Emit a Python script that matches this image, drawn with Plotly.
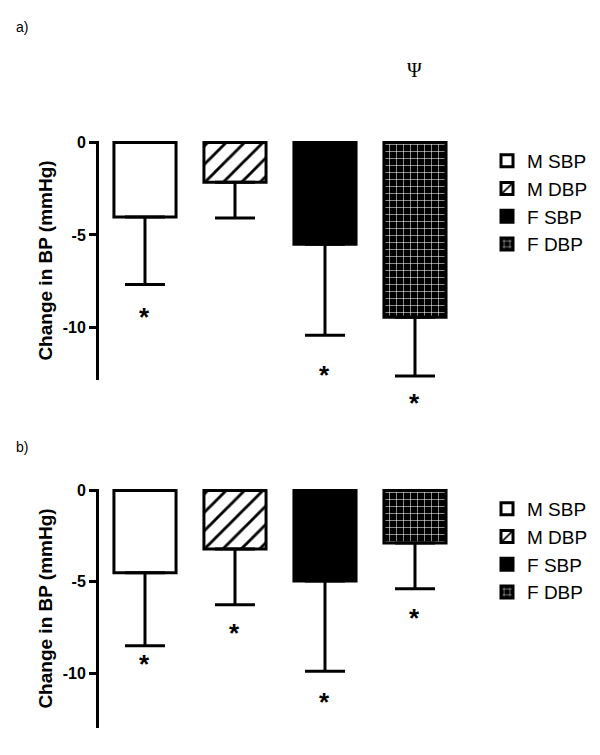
import plotly.graph_objects as go

categories = ["M SBP", "M DBP", "F SBP", "F DBP"]
a_means = [-4.03, -2.15, -5.5, -9.46]
a_err = [3.66, 1.94, 4.93, 3.17]
a_star = [-9.46, None, -12.6, -14.1]

b_means = [-4.5, -3.2, -4.95, -2.88]
b_err = [4.0, 3.05, 4.95, 2.5]
b_star = [-9.5, -7.8, -11.6, -6.96]

a_range = [-12.85, 0.08]
b_range = [-13.0, 0.08]

W, H = 600, 755
FONT = "Liberation Sans, Arial, sans-serif"

styles = {
    "M SBP": dict(color="white", pattern=dict(shape="")),
    "M DBP": dict(color="white", pattern=dict(shape="/", fgcolor="black", bgcolor="white", fgopacity=1,
                                             size=13, solidity=0.22)),
    "F SBP": dict(color="black", pattern=dict(shape="")),
    "F DBP": dict(color="black", pattern=dict(shape="+", fgcolor="white", bgcolor="black", fgopacity=1,
                                             size=7, solidity=0.15)),
}

fig = go.Figure()
annotations = []

def add_panel(means, errs, stars, rng, xa, ya, legend):
    for i, c in enumerate(categories):
        st = styles[c]
        fig.add_trace(go.Bar(
            x=[i], y=[means[i]], name=c, width=0.69,
            marker=dict(color=st["color"], pattern=st["pattern"], line=dict(color="black", width=3)),
            error_y=dict(type="data", symmetric=False, array=[0], arrayminus=[errs[i]],
                         color="black", thickness=3, width=20),
            xaxis=xa, yaxis=ya, legend=legend, legendgroup=legend + c,
            showlegend=True, hoverinfo="skip",
        ))
    # significance stars, placed via the axis domain so ones below the axis end still show
    for i, s in enumerate(stars):
        if s is None:
            continue
        frac = (s - rng[0]) / (rng[1] - rng[0])
        annotations.append(dict(x=i, y=frac, xref=xa, yref=ya + " domain", text="<b>*</b>",
                                showarrow=False, xanchor="center", yanchor="middle",
                                font=dict(size=26, family=FONT, color="black")))

add_panel(a_means, a_err, a_star, a_range, "x", "y", "legend")
add_panel(b_means, b_err, b_star, b_range, "x2", "y2", "legend2")

def px_y(p):
    return 1 - p / H

def px_x(p):
    return p / W

annotations += [
    dict(x=3, y=px_y(70), xref="x", yref="paper", text="Ψ", showarrow=False,
         xanchor="center", yanchor="middle",
         font=dict(size=20, family="Liberation Serif, Times New Roman, serif", color="black")),
    dict(x=px_x(14), y=px_y(27), xref="paper", yref="paper", text="a)", showarrow=False,
         xanchor="left", yanchor="middle", font=dict(size=14, family=FONT, color="black")),
    dict(x=px_x(14), y=px_y(447), xref="paper", yref="paper", text="b)", showarrow=False,
         xanchor="left", yanchor="middle", font=dict(size=14, family=FONT, color="black")),
]

xdom = [px_x(99), px_x(459)]
xcommon = dict(domain=xdom, range=[-0.511, 3.489], showline=False, showticklabels=False,
               ticks="", showgrid=False, zeroline=False, fixedrange=True, automargin=False)
ycommon = dict(showline=True, linewidth=3, linecolor="black", ticks="outside", ticklen=7,
               tickwidth=3, tickcolor="black", tickvals=[0, -5, -10], ticktext=["0", "-5", "-10"],
               tickfont=dict(size=16, family=FONT, color="black", weight="bold"),
               showgrid=False, zeroline=False, automargin=False, fixedrange=True,
               title=dict(text="Change in BP (mmHg)", standoff=6,
                          font=dict(size=19, family=FONT, color="black", weight="bold")))

legend_common = dict(font=dict(size=19, family=FONT, color="black"), xanchor="left", yanchor="top",
                     traceorder="grouped", tracegroupgap=0, bgcolor="rgba(0,0,0,0)", itemclick=False)

fig.update_layout(
    width=W, height=H, margin=dict(l=0, r=0, t=0, b=0, autoexpand=False),
    paper_bgcolor="white", plot_bgcolor="white", barmode="overlay",
    xaxis=dict(**xcommon, anchor="y"),
    yaxis=dict(**ycommon, domain=[px_y(380), px_y(141)], range=a_range, anchor="x"),
    xaxis2=dict(**xcommon, anchor="y2"),
    yaxis2=dict(**ycommon, domain=[px_y(728), px_y(489)], range=b_range, anchor="x2"),
    legend=dict(**legend_common, x=px_x(487), y=px_y(142)),
    legend2=dict(**legend_common, x=px_x(487), y=px_y(490)),
    annotations=annotations,
    showlegend=True,
    hovermode=False,
)

fig.write_html("out.html", config={"displayModeBar": False},
               post_script="document.body.style.margin='0';")
